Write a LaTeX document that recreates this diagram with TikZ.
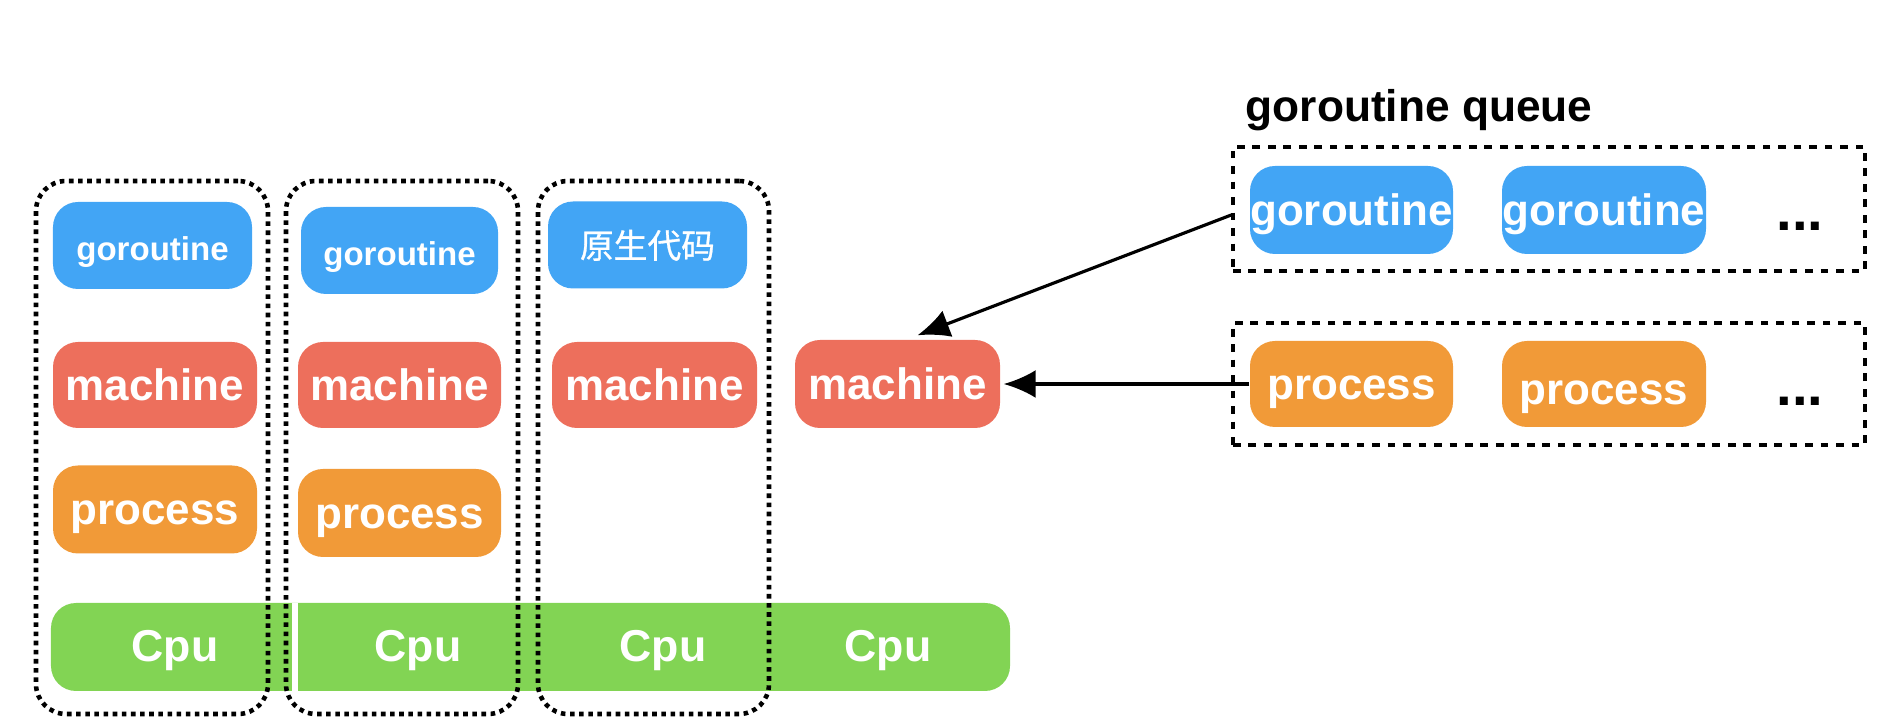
\documentclass[tikz,border=0pt]{standalone}
\usepackage{fontspec}
\setmainfont{Liberation Sans}
\newfontfamily\cjk{Noto Sans CJK SC}[FakeBold=0.8]
\usetikzlibrary{arrows.meta,positioning,calc}

\definecolor{gblue}{RGB}{66,165,245}
\definecolor{mred}{RGB}{237,111,92}
\definecolor{porange}{RGB}{241,154,56}
\definecolor{cgreen}{RGB}{130,212,84}

\tikzset{
  tag/.style={rounded corners=0.25cm, inner sep=0pt, text=white,
    text height=0.86em, text depth=0pt,
    font=\bfseries\fontsize{12.5}{15}\selectfont},
  gtag/.style={tag, fill=gblue, minimum width=1.99cm, minimum height=0.87cm},
  mtag/.style={tag, fill=mred, minimum width=2.04cm, minimum height=0.86cm},
  ptag/.style={tag, fill=porange, minimum width=2.04cm, minimum height=0.88cm},
  colbox/.style={draw, line width=1.3pt, dash pattern=on 1.3pt off 1.3pt,
    rounded corners=0.3cm, minimum width=2.32cm, minimum height=5.33cm, inner sep=0pt},
  queuebox/.style={draw, line width=1pt, dash pattern=on 2.2pt off 2.2pt,
    minimum width=6.32cm, minimum height=1.23cm, inner sep=0pt},
  link/.style={-{Latex[length=3.2mm,width=2.8mm]}, line width=0.9pt}
}

\begin{document}
\begin{tikzpicture}
\useasboundingbox (0,0) rectangle (18.9,-7.28);

% Cpu bar
\node[fill=cgreen, rounded corners=0.25cm, minimum width=9.59cm, minimum height=0.88cm, inner sep=0pt]
  (cpu) at (5.305,-6.47) {};
\draw[white, line width=1.5pt] (2.95,-6.03) -- (2.95,-6.91);
\foreach \cx [count=\i] in {1.75,4.18,6.63,8.88}
  \node[text=white, inner sep=0pt, text height=0.84em, text depth=0pt,
    font=\bfseries\fontsize{12.7}{15}\selectfont] (cpu\i) at (\cx,-6.47) {Cpu};

% columns
\node[gtag, font=\bfseries\fontsize{9.4}{11}\selectfont] (g1) at (1.525,-2.455) {goroutine};
\node[gtag, font=\bfseries\fontsize{9.4}{11}\selectfont, minimum width=1.97cm] (g2) at (3.995,-2.505) {goroutine};
\node[gtag, font=\cjk\fontsize{9.6}{11}\selectfont, text height=0.8em, text depth=0.05em] (native) at (6.475,-2.45) {原生代码};

\node[mtag] (m1) at (1.55,-3.85) {machine};
\node[mtag, minimum width=2.03cm] (m2) at (3.995,-3.85) {machine};
\node[mtag, minimum width=2.05cm] (m3) at (6.545,-3.85) {machine};
\node[mtag, minimum width=2.05cm, minimum height=0.88cm] (m4) at (8.975,-3.84) {machine};

\node[ptag] (p1) at (1.55,-5.095) {process};
\node[ptag, minimum width=2.03cm] (p2) at (3.995,-5.13) {process};

% dotted frames
\node[colbox] (col1) at (1.52,-4.475) {};
\node[colbox] (col2) at (4.02,-4.475) {};
\node[colbox, minimum width=2.31cm] (col3) at (6.535,-4.475) {};

% queues
\node[anchor=base west, inner sep=0pt, font=\bfseries\fontsize{12.6}{15}\selectfont] (title) at (12.45,-1.22) {goroutine queue};

\node[queuebox, minimum height=1.24cm] (gq) at (15.49,-2.09) {};
\node[gtag, minimum width=2.03cm, minimum height=0.88cm] (qg1) at (13.515,-2.10) {goroutine};
\node[gtag, minimum width=2.04cm, minimum height=0.88cm] (qg2) at (16.04,-2.10) {goroutine};
\node[anchor=base, inner sep=0pt, font=\bfseries\fontsize{16}{18}\selectfont] (gdots) at (18.0,-2.31) {...};

\node[queuebox, minimum height=1.22cm] (pq) at (15.49,-3.84) {};
\node[ptag, minimum width=2.03cm, minimum height=0.86cm] (qp1) at (13.515,-3.84) {process};
\node[ptag, minimum width=2.04cm, minimum height=0.86cm, text height=1.18em] (qp2) at (16.04,-3.84) {process};
\node[anchor=base, inner sep=0pt, font=\bfseries\fontsize{16}{18}\selectfont] (pdots) at (18.0,-4.06) {...};

% arrows
\draw[link] ([yshift=-0.06cm]gq.west) -- ([xshift=0.2cm,yshift=0.04cm]m4.north);
\draw[link] (qp1.west) -- ([xshift=0.03cm]m4.east);
\end{tikzpicture}
\end{document}
